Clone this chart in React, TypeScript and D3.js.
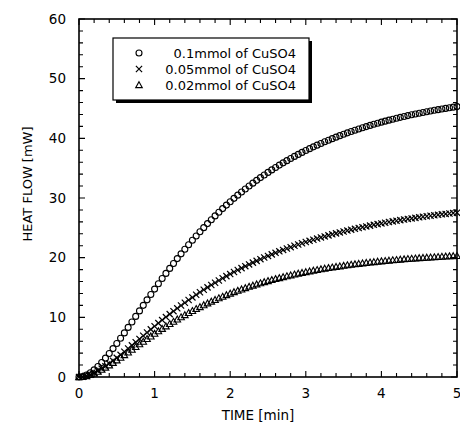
import * as d3 from 'd3';

// time axis (min), sampled every 0.05 min
const times = [
  0, 0.05, 0.1, 0.15, 0.2, 0.25, 0.3, 0.35, 0.4, 0.45, 0.5, 0.55, 0.6, 0.65, 0.7, 0.75, 0.8, 0.85, 0.9, 0.95, 1,
  1.05, 1.1, 1.15, 1.2, 1.25, 1.3, 1.35, 1.4, 1.45, 1.5, 1.55, 1.6, 1.65, 1.7, 1.75, 1.8, 1.85, 1.9, 1.95, 2,
  2.05, 2.1, 2.15, 2.2, 2.25, 2.3, 2.35, 2.4, 2.45, 2.5, 2.55, 2.6, 2.65, 2.7, 2.75, 2.8, 2.85, 2.9, 2.95, 3,
  3.05, 3.1, 3.15, 3.2, 3.25, 3.3, 3.35, 3.4, 3.45, 3.5, 3.55, 3.6, 3.65, 3.7, 3.75, 3.8, 3.85, 3.9, 3.95, 4,
  4.05, 4.1, 4.15, 4.2, 4.25, 4.3, 4.35, 4.4, 4.45, 4.5, 4.55, 4.6, 4.65, 4.7, 4.75, 4.8, 4.85, 4.9, 4.95, 5,
];

// heat flow (mW)
const flow010 = [
  0, 0.09, 0.33, 0.7, 1.19, 1.77, 2.43, 3.16, 3.93, 4.76, 5.61, 6.49, 7.39, 8.31, 9.23, 10.16, 11.08, 12.01, 12.93, 13.83, 14.73,
  15.62, 16.5, 17.36, 18.2, 19.03, 19.84, 20.64, 21.41, 22.17, 22.91, 23.64, 24.35, 25.03, 25.71, 26.36, 27.0, 27.62, 28.22, 28.81, 29.38,
  29.94, 30.48, 31.0, 31.51, 32.01, 32.49, 32.96, 33.42, 33.86, 34.29, 34.71, 35.11, 35.51, 35.89, 36.26, 36.62, 36.97, 37.31, 37.64, 37.96,
  38.27, 38.57, 38.86, 39.14, 39.42, 39.69, 39.95, 40.2, 40.45, 40.69, 40.92, 41.14, 41.36, 41.57, 41.77, 41.97, 42.17, 42.35, 42.53, 42.71,
  42.88, 43.05, 43.21, 43.37, 43.52, 43.66, 43.81, 43.95, 44.08, 44.21, 44.34, 44.46, 44.58, 44.7, 44.81, 44.92, 45.02, 45.13, 45.23, 45.32,
];
const flow005 = [
  0, 0.05, 0.19, 0.4, 0.68, 1.01, 1.39, 1.8, 2.25, 2.72, 3.21, 3.72, 4.24, 4.77, 5.3, 5.84, 6.38, 6.91, 7.45, 7.98, 8.5,
  9.03, 9.54, 10.04, 10.54, 11.03, 11.51, 11.99, 12.45, 12.9, 13.34, 13.78, 14.2, 14.62, 15.02, 15.42, 15.8, 16.18, 16.55, 16.91, 17.25,
  17.6, 17.93, 18.25, 18.57, 18.87, 19.17, 19.46, 19.75, 20.02, 20.29, 20.55, 20.81, 21.06, 21.3, 21.53, 21.76, 21.99, 22.2, 22.41, 22.62,
  22.82, 23.01, 23.2, 23.39, 23.56, 23.74, 23.91, 24.07, 24.23, 24.39, 24.54, 24.69, 24.83, 24.97, 25.11, 25.24, 25.37, 25.5, 25.62, 25.74,
  25.85, 25.97, 26.08, 26.18, 26.29, 26.39, 26.49, 26.58, 26.67, 26.76, 26.85, 26.94, 27.02, 27.1, 27.18, 27.26, 27.33, 27.4, 27.47, 27.54,
];
const flow002 = [
  0, 0.04, 0.17, 0.36, 0.6, 0.9, 1.23, 1.59, 1.98, 2.39, 2.81, 3.25, 3.69, 4.14, 4.59, 5.05, 5.5, 5.94, 6.39, 6.82, 7.26,
  7.68, 8.09, 8.5, 8.9, 9.29, 9.67, 10.04, 10.4, 10.75, 11.09, 11.42, 11.74, 12.06, 12.36, 12.65, 12.94, 13.22, 13.48, 13.74, 14.0,
  14.24, 14.47, 14.7, 14.92, 15.14, 15.34, 15.54, 15.73, 15.92, 16.1, 16.27, 16.44, 16.6, 16.76, 16.91, 17.06, 17.2, 17.34, 17.47, 17.6,
  17.72, 17.84, 17.96, 18.07, 18.18, 18.28, 18.38, 18.48, 18.57, 18.66, 18.75, 18.83, 18.91, 18.99, 19.07, 19.14, 19.21, 19.28, 19.35, 19.41,
  19.47, 19.53, 19.59, 19.64, 19.7, 19.75, 19.8, 19.85, 19.89, 19.94, 19.98, 20.02, 20.06, 20.1, 20.14, 20.18, 20.21, 20.25, 20.28, 20.31,
];

const legendLabels = ['0.1mmol of CuSO4', '0.05mmol of CuSO4', '0.02mmol of CuSO4'];
const xMajor = [0, 1, 2, 3, 4, 5];
const yMajor = [0, 10, 20, 30, 40, 50, 60];

const W = 460;
const H = 425;
const m = { left: 79, right: 3, top: 19, bottom: 48 };
const FONT = '"DejaVu Sans", sans-serif';

function Marker({ kind, x, y }: { kind: string; x: number; y: number }) {
  if (kind === 'circle') {
    return <circle cx={x} cy={y} r={3} fill="none" stroke="#000" strokeWidth={1.1} />;
  }
  if (kind === 'cross') {
    const s = 3.1;
    return (
      <path d={`M${x - s},${y - s}L${x + s},${y + s}M${x - s},${y + s}L${x + s},${y - s}`} stroke="#000" strokeWidth={1.2} />
    );
  }
  const s = 3.3;
  return (
    <path d={`M${x},${y - s}L${x + s},${y + s * 0.8}L${x - s},${y + s * 0.8}Z`} fill="none" stroke="#000" strokeWidth={1.1} />
  );
}

export default function App() {
  const x = d3.scaleLinear().domain([0, 5]).range([m.left, W - m.right]);
  const y = d3.scaleLinear().domain([0, 60]).range([H - m.bottom, m.top]);
  const x0 = x(0), x1 = x(5), y0 = y(0), y1 = y(60);

  const xMinor = d3.range(0, 5.0001, 0.2).filter(v => Math.abs(v - Math.round(v)) > 1e-6);
  const yMinor = d3.range(0, 60.001, 2).filter(v => v % 10 !== 0);

  const series = [
    { kind: 'circle', values: flow010 },
    { kind: 'cross', values: flow005 },
    { kind: 'triangle', values: flow002 },
  ];

  const ticks: string[] = [];
  const major = 6, minor = 4;
  xMajor.forEach(v => {
    ticks.push(`M${x(v)},${y0}v${-major}M${x(v)},${y1}v${major}`);
  });
  xMinor.forEach(v => {
    ticks.push(`M${x(v)},${y0}v${-minor}M${x(v)},${y1}v${minor}`);
  });
  yMajor.forEach(v => {
    ticks.push(`M${x0},${y(v)}h${major}M${x1},${y(v)}h${-major}`);
  });
  yMinor.forEach(v => {
    ticks.push(`M${x0},${y(v)}h${minor}M${x1},${y(v)}h${-minor}`);
  });

  // legend box
  const lg = { x: 113, y: 38, w: 196, h: 62 };

  return (
    <svg width={W} height={H} style={{ position: 'absolute', left: 0, top: 0, background: '#fff' }} fontFamily={FONT}>
      <rect width={W} height={H} fill="#fff" />
      <path d={ticks.join('')} stroke="#000" strokeWidth={1.1} fill="none" />
      <rect x={x0} y={y1} width={x1 - x0} height={y0 - y1} fill="none" stroke="#000" strokeWidth={1.6} />

      {series.map(s => (
        <g key={s.kind}>
          {s.values.map((v, i) => (
            <Marker key={i} kind={s.kind} x={x(times[i])} y={y(v)} />
          ))}
        </g>
      ))}

      {xMajor.map(v => (
        <text key={v} x={x(v)} y={y0 + 21} textAnchor="middle" fontSize={13.5}>{v}</text>
      ))}
      {yMajor.map(v => (
        <text key={v} x={x0 - 13} y={y(v) + 4.5} textAnchor="end" fontSize={13.5}>{v}</text>
      ))}

      <text x={258} y={420} textAnchor="middle" fontSize={13.5}>TIME [min]</text>
      <text transform={`translate(32,184) rotate(-90)`} textAnchor="middle" fontSize={13}>HEAT FLOW [mW]</text>

      <rect x={lg.x + 3} y={lg.y + 3} width={lg.w} height={lg.h} fill="#000" />
      <rect x={lg.x} y={lg.y} width={lg.w} height={lg.h} fill="#fff" stroke="#000" strokeWidth={1.2} />
      {series.map((s, i) => (
        <g key={s.kind}>
          <Marker kind={s.kind} x={139} y={53 + i * 16} />
          <text x={296} y={57.5 + i * 16} textAnchor="end" fontSize={13}>{legendLabels[i]}</text>
        </g>
      ))}
    </svg>
  );
}
